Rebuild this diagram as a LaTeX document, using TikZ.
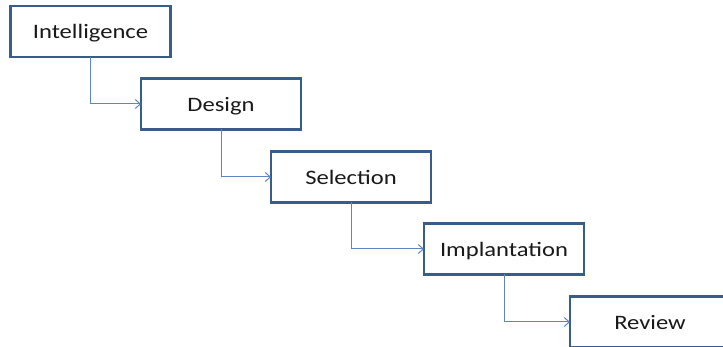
\documentclass[tikz,border=0pt]{standalone}
\usepackage{fontspec}
\setmainfont{Carlito}[FakeStretch=1.2]
\usetikzlibrary{arrows.meta}
\definecolor{boxline}{HTML}{385D8A}
\definecolor{conn}{HTML}{5B85C3}
\begin{document}
\begin{tikzpicture}[x=1pt,y=-1pt,
  stagebox/.style={draw=boxline, line width=2.3pt, fill=white, rectangle,
    minimum width=160pt, minimum height=51pt, inner sep=0pt, outer sep=0pt,
    font=\fontsize{20.5}{24}\selectfont, text=black!90, text height=16pt, text depth=1.5pt},
  conline/.style={draw=conn, line width=1pt, -{Straight Barb[length=5pt,width=9pt]}}]
\useasboundingbox (0,0) rectangle (723,347);
\clip (0,0) rectangle (723,347);
\node[stagebox] (i) at (90.5,31.5) {Intelligence};
\node[stagebox] (d) at (221,104) {Design};
\node[stagebox] (s) at (351,177) {Selection};
\node[stagebox] (p) at (504,249) {Implantation};
\node[stagebox] (r) at (650,322) {Review};
\draw[conline] (i.south) |- (d.west);
\draw[conline] (d.south) |- (s.west);
\draw[conline] (s.south) |- (p.west);
\draw[conline] (p.south) |- (r.west);
\end{tikzpicture}
\end{document}
